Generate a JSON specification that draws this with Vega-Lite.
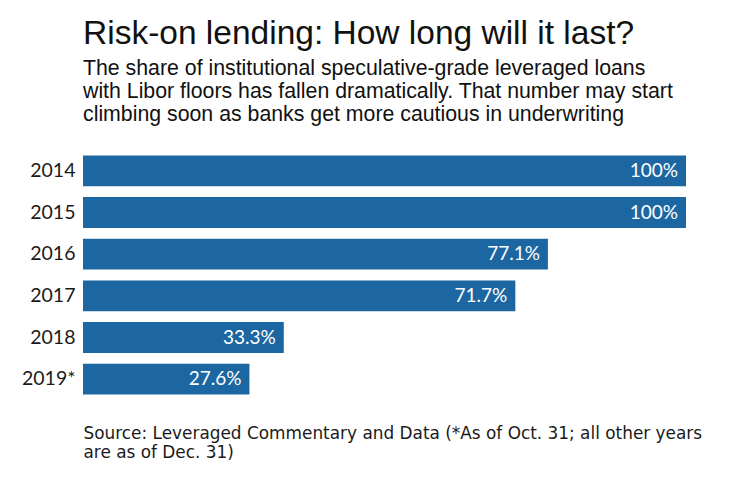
{
  "$schema": "https://vega.github.io/schema/vega-lite/v6.json",
  "width": 603,
  "height": 250,
  "autosize": {"type": "none"},
  "padding": {"left": 83, "top": 150, "right": 54, "bottom": 82},
  "background": "white",
  "title": {
    "text": "Risk-on lending: How long will it last?",
    "subtitle": ["The share of institutional speculative-grade leveraged loans", "with Libor floors has fallen dramatically. That number may start", "climbing soon as banks get more cautious in underwriting"],
    "anchor": "start",
    "frame": "group",
    "font": "Liberation Sans",
    "fontSize": 33.5,
    "fontWeight": "normal",
    "color": "#111111",
    "subtitleFont": "Liberation Sans",
    "subtitleFontSize": 21.3,
    "subtitleColor": "#111111",
    "subtitleLineHeight": 23,
    "subtitlePadding": 6,
    "offset": 24
  },
  "data": {
    "values": [
      {"year": "2014", "share": 1.0},
      {"year": "2015", "share": 1.0},
      {"year": "2016", "share": 0.771},
      {"year": "2017", "share": 0.717},
      {"year": "2018", "share": 0.333},
      {"year": "2019*", "share": 0.276}
    ]
  },
  "encoding": {
    "y": {
      "field": "year",
      "type": "nominal",
      "sort": null,
      "scale": {"paddingInner": 0.26, "paddingOuter": 0.13},
      "axis": {
        "title": null,
        "domain": false,
        "ticks": false,
        "labelPadding": 8,
        "labelFont": "Lato",
        "labelFontSize": 19.5,
        "labelColor": "#1a1a1a"
      }
    },
    "x": {
      "field": "share",
      "type": "quantitative",
      "scale": {"domain": [0, 1], "nice": false},
      "axis": {
        "labels": false,
        "domain": false,
        "ticks": false,
        "grid": false,
        "title": ["Source: Leveraged Commentary and Data (*As of Oct. 31; all other years", "are as of Dec. 31)"],
        "titleAnchor": "start",
        "titleAlign": "left",
        "titleBaseline": "alphabetic",
        "titleY": 38,
        "titleX": 0,
        "titleFont": "DejaVu Sans",
        "titleFontSize": 16.9,
        "titleFontWeight": "normal",
        "titleColor": "#1a1a1a",
        "titleLineHeight": 19.5
      }
    }
  },
  "layer": [
    {"mark": {"type": "bar", "color": "#1c67a1"}},
    {
      "mark": {"type": "text", "align": "right", "dx": -8, "color": "white", "font": "Lato", "fontSize": 19, "baseline": "middle"},
      "encoding": {"text": {"field": "share", "type": "quantitative", "format": ".1~%"}}
    }
  ],
  "config": {"view": {"stroke": null}}
}
